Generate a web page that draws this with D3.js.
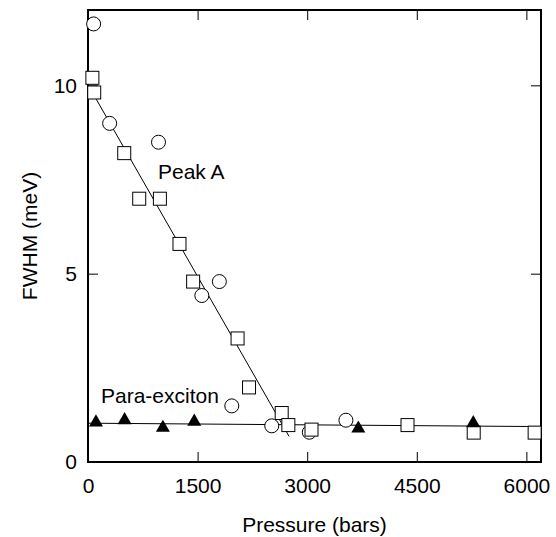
<!DOCTYPE html>
<html>
<head>
<meta charset="utf-8">
<script src="https://cdn.jsdelivr.net/npm/d3@7"></script>
<style>
  body { margin: 0; background: #fff; }
  text { font-family: "Liberation Sans", Arial, sans-serif; }
</style>
</head>
<body>
<script>
// FWHM vs pressure
const squaresPeakA = [
  [60, 10.2], [85, 9.81], [496, 8.2], [701, 6.99], [984, 6.99],
  [1252, 5.79], [1439, 4.79], [2047, 3.28], [2204, 1.98], [2651, 1.3],
  [2742, 0.98], [3059, 0.86], [4373, 0.98], [5279, 0.78], [6113, 0.78]
];
const circlesPeakA = [
  [77, 11.63], [296, 8.99], [965, 8.49], [1558, 4.42], [1798, 4.79],
  [1968, 1.49], [2515, 0.96], [3029, 0.79], [3530, 1.11]
];
const trianglesPara = [
  [109, 1.05], [501, 1.11], [1025, 0.91], [1454, 1.07], [3700, 0.89], [5273, 1.03]
];
const peakALine = [[72, 9.77], [2752, 0.68]];
const paraLine = [[0, 1.03], [6200, 0.94]];
const xTicks = [0, 1500, 3000, 4500, 6000];
const yTicks = [0, 5, 10];

const margin = {top: 10, right: 15, bottom: 75, left: 88};
const width = 556 - margin.left - margin.right;   // 453
const height = 537 - margin.top - margin.bottom;  // 452

const svg = d3.select("body").append("svg")
    .attr("width", 556)
    .attr("height", 537);

const g = svg.append("g")
    .attr("transform", "translate(" + margin.left + "," + margin.top + ")");

const x = d3.scaleLinear().domain([0, 6200]).range([0, width]);
const y = d3.scaleLinear().domain([0, 12]).range([height, 0]);

// axes, ticks pointing inward
const fontSize = "21px";
function styleAxis(sel) {
  sel.select(".domain").remove();
  sel.selectAll(".tick line").attr("stroke", "#000").attr("stroke-width", 1);
  sel.selectAll(".tick text").attr("fill", "#000").style("font-size", fontSize)
     .style("font-family", "'Liberation Sans', Arial, sans-serif");
}

g.append("g")
  .attr("transform", "translate(0," + height + ")")
  .call(d3.axisBottom(x).tickValues(xTicks).tickFormat(d3.format("d"))
          .tickSizeInner(-10).tickSizeOuter(0).tickPadding(16))
  .call(styleAxis);

g.append("g")
  .call(d3.axisTop(x).tickValues(xTicks).tickSizeInner(-10).tickSizeOuter(0).tickFormat(""))
  .call(styleAxis);

g.append("g")
  .call(d3.axisLeft(y).tickValues(yTicks).tickFormat(d3.format("d"))
          .tickSizeInner(-10).tickSizeOuter(0).tickPadding(11))
  .call(styleAxis);

g.append("g")
  .attr("transform", "translate(" + width + ",0)")
  .call(d3.axisRight(y).tickValues(yTicks).tickSizeInner(-10).tickSizeOuter(0).tickFormat(""))
  .call(styleAxis);

// frame
g.append("rect")
  .attr("x", 0).attr("y", 0)
  .attr("width", width).attr("height", height)
  .attr("fill", "none")
  .attr("stroke", "#000")
  .attr("stroke-width", 2);

// fit lines
const line = d3.line().x(d => x(d[0])).y(d => y(d[1]));
g.append("path").datum(peakALine)
  .attr("d", line).attr("fill", "none").attr("stroke", "#000").attr("stroke-width", 1);
g.append("path").datum(paraLine)
  .attr("d", line).attr("fill", "none").attr("stroke", "#000").attr("stroke-width", 1);

// markers
g.selectAll(".circ").data(circlesPeakA).enter()
  .append("circle")
  .attr("class", "circ")
  .attr("cx", d => x(d[0]))
  .attr("cy", d => y(d[1]))
  .attr("r", 7)
  .attr("fill", "#fff")
  .attr("stroke", "#000")
  .attr("stroke-width", 1);

g.selectAll(".sq").data(squaresPeakA).enter()
  .append("rect")
  .attr("class", "sq")
  .attr("x", d => x(d[0]) - 6.5)
  .attr("y", d => y(d[1]) - 6.5)
  .attr("width", 13)
  .attr("height", 13)
  .attr("fill", "#fff")
  .attr("stroke", "#000")
  .attr("stroke-width", 1);

const tri = d3.symbol().type(d3.symbolTriangle).size(85);
g.selectAll(".tri").data(trianglesPara).enter()
  .append("path")
  .attr("class", "tri")
  .attr("d", tri)
  .attr("transform", d => "translate(" + x(d[0]) + "," + y(d[1]) + ")")
  .attr("fill", "#000");

// labels
svg.append("text")
  .attr("x", 158).attr("y", 179)
  .style("font-size", fontSize)
  .text("Peak A");

svg.append("text")
  .attr("x", 101).attr("y", 403)
  .style("font-size", fontSize)
  .text("Para-exciton");

svg.append("text")
  .attr("x", margin.left + width / 2).attr("y", 532)
  .attr("text-anchor", "middle")
  .style("font-size", fontSize)
  .text("Pressure (bars)");

svg.append("text")
  .attr("transform", "translate(37," + (margin.top + height / 2) + ") rotate(-90)")
  .attr("text-anchor", "middle")
  .style("font-size", fontSize)
  .text("FWHM (meV)");
</script>
</body>
</html>
